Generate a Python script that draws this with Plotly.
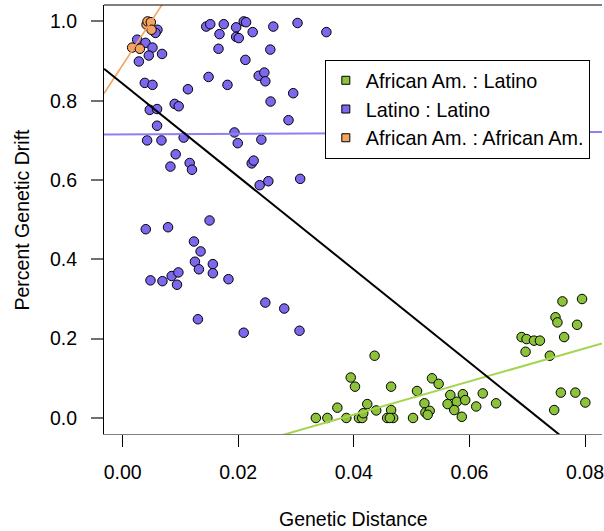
import plotly.graph_objects as go

# ---------------- data ----------------
# African Am. : African Am. (orange)
aa_x = [0.00165, 0.00298, 0.00414, 0.00431, 0.00488, 0.00500]
aa_y = [0.934, 0.931, 0.992, 1.000, 0.998, 0.979]

# Latino : Latino (purple)
ll_x = [0.00603, 0.00569, 0.00252, 0.00396, 0.00517, 0.00453, 0.00682, 0.00281,
        0.00384, 0.00517, 0.01130, 0.00901, 0.00970, 0.00470, 0.00596, 0.00596,
        0.00424, 0.00672, 0.01056, 0.00918, 0.00827, 0.01160, 0.01200, 0.01447,
        0.01516, 0.01750, 0.01676, 0.01964, 0.02095, 0.02136, 0.02250, 0.01964,
        0.02009, 0.02607, 0.03026, 0.03525, 0.01659, 0.02555, 0.02124, 0.01487,
        0.01814, 0.02354, 0.02452, 0.02469, 0.02951, 0.02560, 0.02870, 0.01935,
        0.01992, 0.02400, 0.02233, 0.02267, 0.02371, 0.02521, 0.03072,
        0.00401, 0.00786, 0.01504, 0.01234, 0.01349, 0.01251, 0.01320, 0.01561,
        0.01561, 0.00482, 0.00689, 0.00849, 0.00965, 0.00941, 0.01831, 0.01303,
        0.02095, 0.02469, 0.02796, 0.03060]
ll_y = [0.979, 0.971, 0.954, 0.946, 0.934, 0.914, 0.918, 0.899,
        0.845, 0.840, 0.829, 0.792, 0.786, 0.777, 0.779, 0.737,
        0.700, 0.700, 0.707, 0.665, 0.634, 0.643, 0.626, 0.987,
        0.993, 0.993, 0.968, 0.985, 1.000, 0.998, 0.973, 0.961,
        0.958, 0.987, 0.996, 0.973, 0.931, 0.929, 0.903, 0.860,
        0.840, 0.863, 0.871, 0.849, 0.819, 0.798, 0.751, 0.720,
        0.693, 0.702, 0.642, 0.649, 0.587, 0.597, 0.603,
        0.476, 0.481, 0.498, 0.445, 0.420, 0.394, 0.375, 0.388,
        0.365, 0.347, 0.345, 0.358, 0.367, 0.336, 0.350, 0.249,
        0.215, 0.291, 0.276, 0.220]

# African Am. : Latino (green)
al_x = [0.03343, 0.03542, 0.03715, 0.03870, 0.03946, 0.04020, 0.04359, 0.04089,
        0.04145, 0.04163, 0.04232, 0.04387, 0.04576, 0.04645, 0.04680, 0.04645,
        0.05024, 0.05093, 0.05221, 0.05238, 0.05312, 0.05277, 0.05352, 0.05467,
        0.05669, 0.05622, 0.05782, 0.05886, 0.05927, 0.05737, 0.05868, 0.06117,
        0.06230, 0.06461, 0.07609, 0.07948, 0.07488, 0.07522, 0.07862, 0.06902,
        0.06988, 0.07116, 0.07219, 0.07638, 0.06971, 0.07391, 0.07581, 0.07832,
        0.08005, 0.07466, 0.04623]
al_y = [0.000, 0.000, 0.026, 0.000, 0.102, 0.079, 0.157, 0.000,
        0.000, 0.012, 0.035, 0.019, 0.000, 0.020, 0.000, 0.079,
        0.000, 0.068, 0.037, 0.014, 0.018, 0.008, 0.100, 0.086,
        0.058, 0.035, 0.041, 0.060, 0.045, 0.020, 0.003, 0.029,
        0.062, 0.037, 0.294, 0.300, 0.254, 0.241, 0.235, 0.204,
        0.199, 0.195, 0.195, 0.204, 0.167, 0.157, 0.064, 0.064,
        0.039, 0.020, 0.000]

# fitted lines: (intercept, slope)
fit_all = (0.8428, -11.71)
fit_al = (-0.1586, 4.18)
fit_ll = (0.7148, 0.08)
fit_aa = (0.890, 22.3)

x_ticks = [0.00, 0.02, 0.04, 0.06, 0.08]
x_tick_text = ["0.00", "0.02", "0.04", "0.06", "0.08"]
y_ticks = [0.0, 0.2, 0.4, 0.6, 0.8, 1.0]
y_tick_text = ["0.0", "0.2", "0.4", "0.6", "0.8", "1.0"]

legend_names = ["African Am. : Latino", "Latino : Latino", "African Am. : African Am."]

# ---------------- style ----------------
C_GREEN = "#8DC33A"
C_PURPLE = "#7B68EE"
C_ORANGE = "#F4A460"
FONT = "Liberation Sans, Arial, sans-serif"
FS = 19.5

X_RANGE = [-0.00322, 0.08293]
Y_RANGE = [-0.0404, 1.0414]

fig = go.Figure()

def pts(x, y, color):
    return go.Scatter(x=x, y=y, mode="markers", showlegend=False, hoverinfo="skip",
                      marker=dict(size=9.5, color=color, line=dict(color="black", width=1)))

fig.add_trace(pts(ll_x, ll_y, C_PURPLE))
fig.add_trace(pts(aa_x, aa_y, C_ORANGE))
fig.add_trace(pts(al_x, al_y, C_GREEN))

def fit_line(coef, color, width):
    a, b = coef
    xs = [X_RANGE[0], X_RANGE[1]]
    ys = [a + b * v for v in xs]
    return go.Scatter(x=xs, y=ys, mode="lines", showlegend=False, hoverinfo="skip",
                      line=dict(color=color, width=width))

fig.add_trace(fit_line(fit_ll, "#8F80F2", 2))
fig.add_trace(fit_line(fit_al, "#A5D44F", 2))
fig.add_trace(fit_line(fit_aa, C_ORANGE, 1.6))
fig.add_trace(fit_line(fit_all, "black", 2))

for name, col in zip(legend_names, [C_GREEN, C_PURPLE, C_ORANGE]):
    fig.add_trace(go.Scatter(x=[None], y=[None], mode="markers", name=name,
                             marker=dict(symbol="square", size=8, color=col,
                                         line=dict(color="black", width=1))))

fig.update_layout(
    width=604, height=531,
    margin=dict(l=104, r=0, t=5, b=97),
    paper_bgcolor="white", plot_bgcolor="white",
    font=dict(family=FONT, size=FS, color="black"),
    showlegend=True,
    legend=dict(x=0.4434, y=0.872, xanchor="left", yanchor="top",
                bordercolor="black", borderwidth=1, bgcolor="white",
                font=dict(family=FONT, size=19.8, color="black")),
    xaxis=dict(range=X_RANGE, showgrid=False, zeroline=False,
               showline=True, linecolor="#808080", linewidth=1,
               tickmode="array", tickvals=x_ticks, ticktext=x_tick_text,
               ticks="outside", ticklen=12, tickcolor="black", tickwidth=1,
               ticklabelstandoff=9, ticklabeloverflow="allow"),
    yaxis=dict(range=Y_RANGE, showgrid=False, zeroline=False,
               showline=True, linecolor="black", linewidth=1,
               tickmode="array", tickvals=y_ticks, ticktext=y_tick_text,
               ticks="outside", ticklen=12, tickcolor="#707070", tickwidth=1.5,
               ticklabelstandoff=10, ticklabeloverflow="allow"),
    shapes=[dict(type="line", xref="paper", yref="paper", x0=0, x1=1, y0=1, y1=1,
                 line=dict(color="black", width=1.2))],
    annotations=[
        dict(text="Genetic Distance", xref="paper", yref="paper", x=0.5, y=0,
             xanchor="center", yanchor="middle", yshift=-85, showarrow=False,
             font=dict(family=FONT, size=FS)),
        dict(text="Percent Genetic Drift", xref="paper", yref="paper", x=0, y=0.5,
             xanchor="center", yanchor="middle", xshift=-83, textangle=-90,
             showarrow=False, font=dict(family=FONT, size=FS)),
    ],
)

fig.write_html("out.html", config={"displayModeBar": False},
               post_script="document.body.style.margin='0';")
